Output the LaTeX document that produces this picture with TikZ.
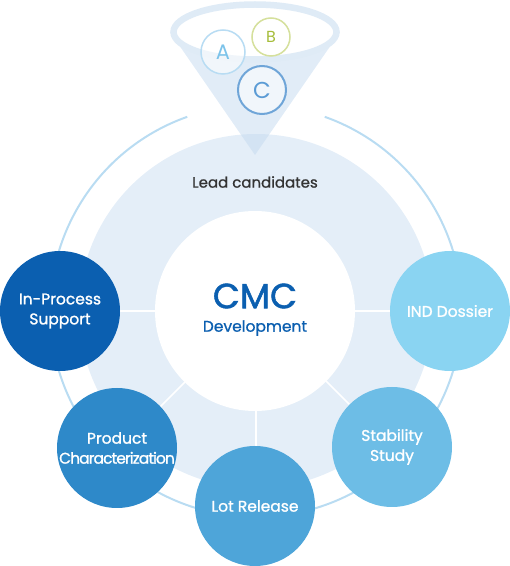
\documentclass[tikz,border=0pt]{standalone}
\usepackage{fontspec}
\setmainfont{Poppins}
\definecolor{disk}{HTML}{E4EEF8}
\definecolor{ringc}{HTML}{B9DCF2}
\definecolor{funnel}{HTML}{DFEBF6}
\definecolor{conec}{HTML}{C4DAEF}
\definecolor{cmcblue}{HTML}{0B5FB0}
\definecolor{cInProc}{HTML}{0B5FB0}
\definecolor{cProd}{HTML}{2E89C9}
\definecolor{cLot}{HTML}{4EA5D9}
\definecolor{cStab}{HTML}{6DBDE6}
\definecolor{cIND}{HTML}{8AD4F2}
\definecolor{aring}{HTML}{B8DCF3}
\definecolor{atext}{HTML}{7CC3EA}
\definecolor{bring}{HTML}{D5E09C}
\definecolor{btext}{HTML}{A6BD3A}
\definecolor{cring}{HTML}{6FA5D8}
\definecolor{ctext}{HTML}{5B9BD5}
\definecolor{leadtext}{HTML}{333333}
\tikzset{
  sat/.style={circle, minimum size=120pt, inner sep=0pt, text=white, align=center,
    font=\fontsize{15.5}{20}\selectfont\addfontfeatures{FakeBold=1.2}},
  divider/.style={white, line width=1.6pt},
  letter/.style={circle, inner sep=0pt, fill=white, fill opacity=0.55, text opacity=1},
}
\begin{document}
\begin{tikzpicture}[x=1pt,y=1pt]
\useasboundingbox (0,0) rectangle (510,566);
\coordinate (O) at (256,255);
% outer thin ring with a gap at the top
\draw[ringc, line width=2pt] (O) ++(109.5:206) arc[start angle=109.5, end angle=430.5, radius=206];
% light disk
\fill[disk] (O) circle[radius=177];
% dividers
\foreach \a in {0,180,225,270,315}
  \draw[divider] (O) -- ++(\a:177);
% inner white circle
\node[circle, fill=white, minimum size=200pt, inner sep=0pt] (core) at (255,255) {};
\node[text=cmcblue, font=\fontsize{35}{38}\selectfont\addfontfeatures{FakeBold=1.5}] (cmc) at (255,270) {CMC};
\node[text=cmcblue, font=\fontsize{15.5}{18}\selectfont\addfontfeatures{FakeBold=0.8}] (dev) at (255,238) {Development};
% funnel
\fill[conec, fill opacity=0.5] (170,534) -- (340,534) -- (255,411) -- cycle;
\draw[funnel, line width=6.5pt, fill=white] (255,534) ellipse[x radius=81.5, y radius=27.5];
\node[letter, draw=aring, line width=1.5pt, minimum size=44pt, text=atext, font=\fontsize{21}{22}\selectfont] (A) at (223,514) {A};
\node[letter, draw=bring, line width=1.5pt, minimum size=38pt, text=btext, font=\fontsize{16}{18}\selectfont] (B) at (271,529) {B};
\node[letter, draw=cring, line width=2pt, minimum size=48pt, text=ctext, font=\fontsize{23}{24}\selectfont] (C) at (262,476) {C};
\node[text=leadtext, font=\fontsize{15}{17}\selectfont\addfontfeatures{FakeBold=0.8}] (lead) at (255,384) {Lead candidates};
% satellites
\node[sat, fill=cInProc] (inproc) at (60,255) {In-Process\\Support};
\node[sat, fill=cIND] (ind) at (450,255) {IND Dossier};
\node[sat, fill=cStab] (stab) at (392,119) {Stability\\Study};
\node[sat, fill=cLot] (lot) at (255,60) {Lot Release};
\node[sat, fill=cProd] (prod) at (117,118) {Product\\{\addfontfeatures{LetterSpace=-6}Characterization}};
\end{tikzpicture}
\end{document}
